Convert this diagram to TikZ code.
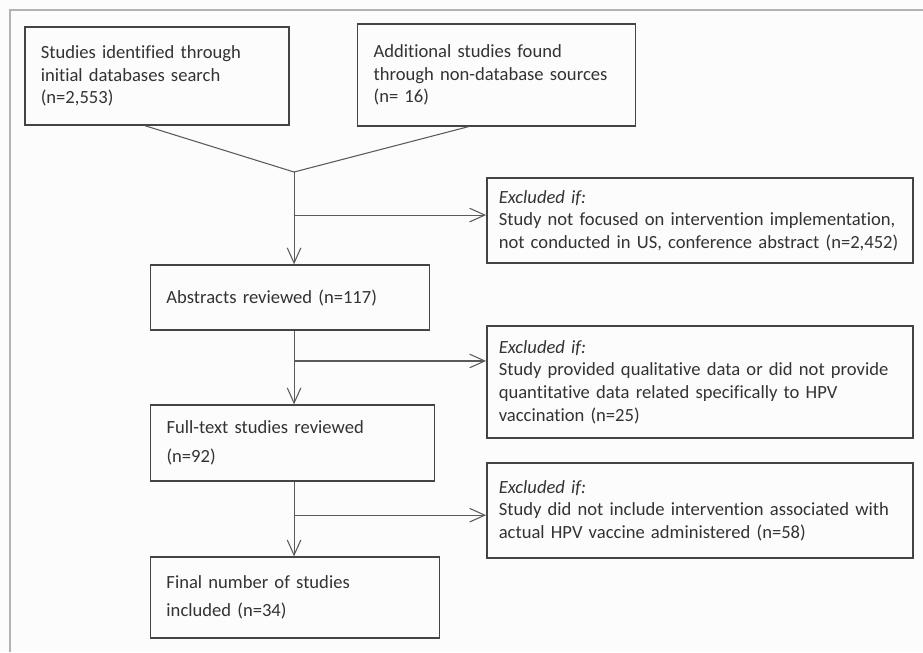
\documentclass[tikz,border=0pt]{standalone}
\usepackage{fontspec}
\setmainfont{Carlito}[Ligatures=NoCommon]
\usepackage{tikz}
\usetikzlibrary{arrows.meta,positioning,calc}
\definecolor{boxline}{HTML}{444444}
\definecolor{wireline}{HTML}{5A5A5A}
\definecolor{txt}{HTML}{333333}
\hyphenpenalty=10000
\tikzset{
  box/.style={draw=boxline, line width=1.1pt, align=left, inner xsep=12pt,
              text=txt, font=\fontsize{14}{17}\selectfont},
  exbox/.style={box, inner xsep=9pt, text width=303pt, minimum height=#1},
  flowarrow/.style={-{Straight Barb[length=4mm,width=3.6mm]}, line width=0.8pt, wireline},
  wire/.style={line width=0.8pt, wireline},
  frame/.style={line width=1pt, gray!60},
}

\begin{document}
\begin{tikzpicture}
  \useasboundingbox (0,0) rectangle (24.42,-17.25);
  \fill[white!99!black] (0,0) rectangle (24.42,-17.25);
  % outer frame
  \draw[frame] (24.42,-0.265) -- (0.265,-0.265) -- (0.265,-17.25);

  % sources
  \node[box, text width=175pt, minimum height=2.59cm] (idb) at (4.154,-2.011)
    {Studies identified through\\initial databases search\\(n=2,553)};
  \node[box, text width=185pt, minimum height=2.70cm] (addl) at (13.136,-1.984)
    {Additional studies found\\through non-database sources\\(n= 16)};

  % screening steps
  \node[box, text width=186pt, minimum height=1.72cm] (abs) at (7.673,-7.871)
    {Abstracts reviewed (n=117)};
  \node[box, text width=189.7pt, minimum height=2.01cm] (ftx) at (7.739,-11.721)
    {Full-text studies reviewed\\[5pt](n=92)};
  \node[box, text width=193.5pt, minimum height=2.14cm] (fin) at (7.805,-15.809)
    {Final number of studies\\[4pt]included (n=34)};

  % exclusions
  \node[exbox=2.25cm] (ex1) at (18.52,-5.834)
    {\textit{Excluded if:}\\Study not focused on intervention implementation,\\not conducted in US, conference abstract (n=2,452)};
  \node[exbox=2.96cm] (ex2) at (18.52,-10.107)
    {\textit{Excluded if:}\\Study provided qualitative data or did not provide\\quantitative data related specifically to HPV\\vaccination (n=25)};
  \node[exbox=2.51cm] (ex3) at (18.52,-13.507)
    {\textit{Excluded if:}\\Study did not include intervention associated with\\actual HPV vaccine administered (n=58)};

  % merge point and branch points
  \coordinate (join) at (7.78,-4.551);
  \coordinate (b1) at (7.78,-5.69);
  \coordinate (b2) at (7.78,-9.55);
  \coordinate (b3) at (7.78,-13.63);

  \draw[wire] ($(idb.south)+(-0.32,0)$) -- (join);
  \draw[wire] ($(addl.south)+(-0.75,0)$) -- (join);

  \draw[flowarrow] (join) -- (join |- abs.north);
  \draw[flowarrow] (b1) -- (b1 -| ex1.west);

  \draw[flowarrow] (abs.south -| join) -- (ftx.north -| join);
  \draw[flowarrow] (b2) -- (b2 -| ex2.west);

  \draw[flowarrow] (ftx.south -| join) -- (fin.north -| join);
  \draw[flowarrow] (b3) -- (b3 -| ex3.west);
\end{tikzpicture}
\end{document}
